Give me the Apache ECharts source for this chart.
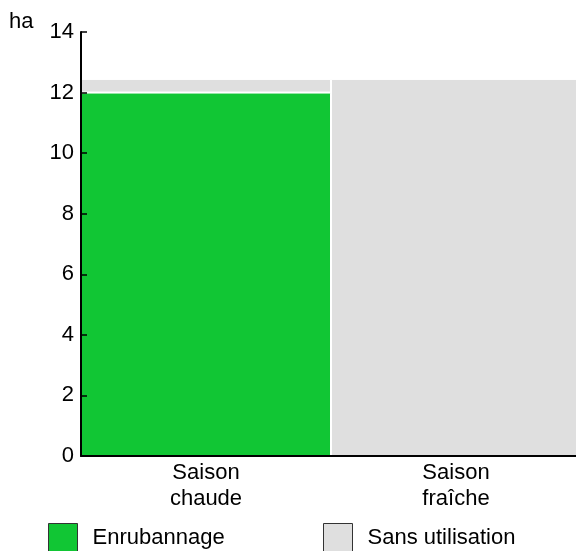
<!DOCTYPE html>
<html><head><meta charset="utf-8">
<script src="https://cdn.jsdelivr.net/npm/echarts@6/dist/echarts.min.js"></script>
<style>html,body{margin:0;padding:0;background:#fff}#c{width:576px;height:551px}</style>
</head><body><div id="c"></div>
<script>
const categories = ['Saison\nchaude', 'Saison\nfraîche'];
const enrubannage = [12, 0];
const sansUtilisation = [0.45, 12.45];
const yTicks = {min: 0, max: 14, interval: 2};
const font = 'Liberation Sans, Arial, sans-serif';
const chart = echarts.init(document.getElementById('c'));
chart.setOption({
  animation: false,
  title: {text: 'ha', left: 9, top: 11, padding: 0, textStyle: {fontFamily: font, fontSize: 22, fontWeight: 'normal', color: '#000'}},
  grid: {left: 81, top: 32, bottom: 95, width: 500, outerBoundsMode: 'none', containLabel: false},
  legend: [
    {data: ['Enrubannage'], left: 48, top: 523, itemWidth: 29, itemHeight: 28, padding: 0, icon: 'rect',
     itemStyle: {borderColor: '#333', borderWidth: 1},
     textStyle: {fontFamily: font, fontSize: 22, color: '#000', padding: [0, 0, 0, 10]}},
    {data: ['Sans utilisation'], left: 323, top: 523, itemWidth: 29, itemHeight: 28, padding: 0, icon: 'rect',
     itemStyle: {borderColor: '#333', borderWidth: 1},
     textStyle: {fontFamily: font, fontSize: 22, color: '#000', padding: [0, 0, 0, 10]}}
  ],
  xAxis: {type: 'category', data: categories, z: 5,
    axisLine: {lineStyle: {color: '#000', width: 2}},
    axisTick: {inside: true, length: 5, lineStyle: {color: '#000', width: 1.5}},
    axisLabel: {fontFamily: font, fontSize: 22, color: '#000', lineHeight: 26, margin: 4}},
  yAxis: {type: 'value', min: yTicks.min, max: yTicks.max, interval: yTicks.interval, z: 5,
    axisLine: {show: true, lineStyle: {color: '#000', width: 2}},
    axisTick: {show: true, inside: true, length: 6, lineStyle: {color: '#000', width: 1.5}},
    splitLine: {show: false},
    axisLabel: {fontFamily: font, fontSize: 22, color: '#000', margin: 7}},
  series: [
    {name: 'Enrubannage', type: 'bar', stack: 's', data: enrubannage, barCategoryGap: 0,
     itemStyle: {color: '#11c634', borderColor: '#fff', borderWidth: 1}},
    {name: 'Sans utilisation', type: 'bar', stack: 's', data: sansUtilisation, barCategoryGap: 0,
     itemStyle: {color: '#dfdfdf', borderColor: '#fff', borderWidth: 1}}
  ]
});
</script></body></html>
